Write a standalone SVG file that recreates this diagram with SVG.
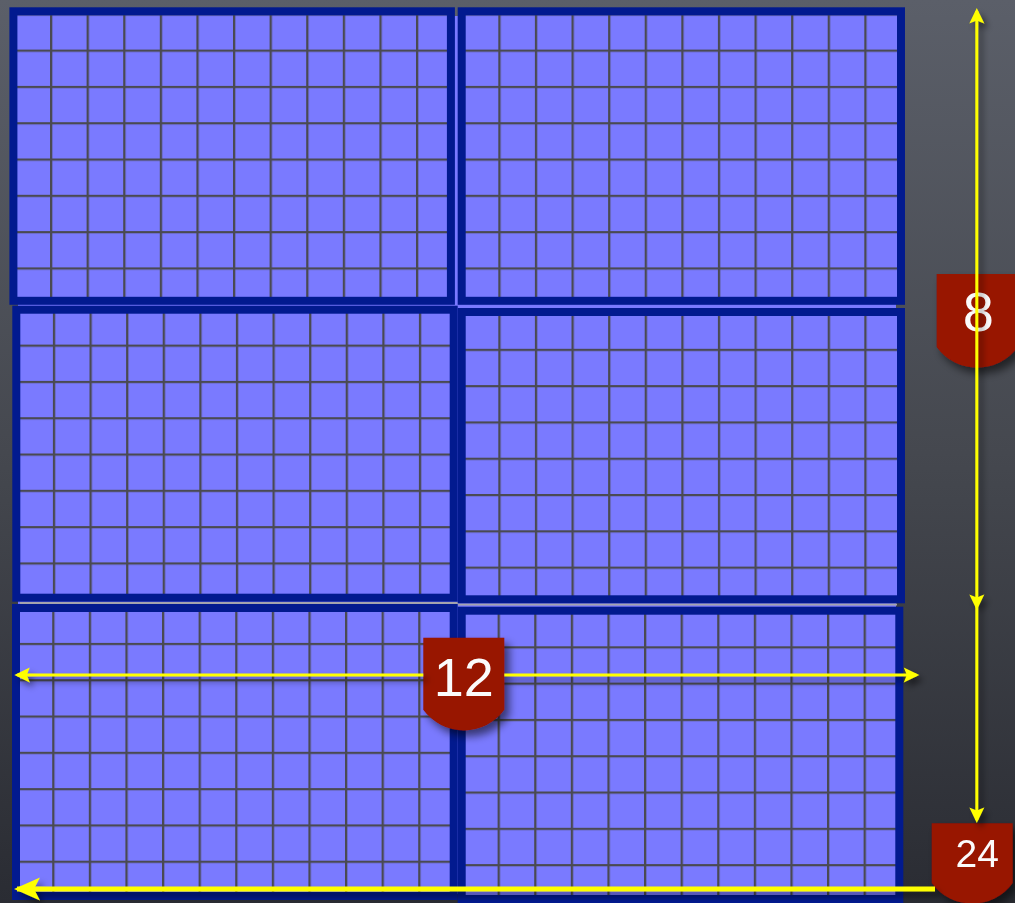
<svg xmlns="http://www.w3.org/2000/svg" width="1015" height="903" viewBox="0 0 1015 903">
  <style>
    .cells { fill: url(#grid); }
    .frame { fill: none; stroke: #021a8f; stroke-width: 8; }
    .badge { fill: #981300; }
    .num { fill: #fbfbfb; font-family: "Liberation Sans", Arial, sans-serif; text-anchor: middle; }
    .yl { fill: none; stroke: #ffff00; stroke-width: 3; }
    .yl-thick { fill: none; stroke: #ffff00; stroke-width: 5; }
  </style>
  <defs>
    <linearGradient id="bg" x1="0" y1="0" x2="0" y2="1">
      <stop offset="0" stop-color="#5b5f69"/>
      <stop offset="0.5" stop-color="#45484f"/>
      <stop offset="1" stop-color="#2a2c33"/>
    </linearGradient>
    <pattern id="grid" width="36.6" height="36.3" patternUnits="userSpaceOnUse">
      <rect width="36.6" height="36.3" fill="#7a7aff"/>
      <path d="M1.15,0 V36.3 M0,1.15 H36.6" stroke="#4a4a52" stroke-width="2.3"/>
    </pattern>
    <filter id="shadow" x="-30%" y="-30%" width="160%" height="160%">
      <feDropShadow dx="5" dy="6" stdDeviation="4" flood-color="#000" flood-opacity="0.55"/>
    </filter>
    <filter id="ashadow" x="-10%" y="-10%" width="120%" height="120%">
      <feDropShadow dx="4" dy="5" stdDeviation="3" flood-color="#000" flood-opacity="0.5"/>
    </filter>
    <marker id="head" markerUnits="userSpaceOnUse" markerWidth="40" markerHeight="40" refX="0" refY="0" orient="auto-start-reverse" overflow="visible">
      <path d="M3,0 L-12.5,-7.5 L-9.5,0 L-12.5,7.5 Z" fill="#ffff00"/>
    </marker>
    <marker id="bighead" markerUnits="userSpaceOnUse" markerWidth="60" markerHeight="60" refX="0" refY="0" orient="auto-start-reverse" overflow="visible">
      <path d="M3,0 L-23,-11.5 L-17,0 L-23,11.5 Z" fill="#ffff00"/>
    </marker>
    <path id="shield" d="M0,0 H81 V72 A50 50 0 0 1 0 72 Z"/>
  </defs>

  <rect width="1015" height="903" fill="url(#bg)"/>

  <g id="underlay">
    <rect x="18" y="16" width="878" height="878" fill="#7a7aff"/>
    <path d="M20,603 H458 M458,604.5 H897" stroke="#a4a4ae" stroke-width="2.2"/>
  </g>

  <g id="panel-top-left" transform="translate(13.4,13.3)">
    <rect class="cells" width="439" height="288"/>
    <rect class="frame" x="0" y="-2" width="437.5" height="289.5"/>
  </g>
  <g id="panel-top-right" transform="translate(461.7,13.3)">
    <rect class="cells" width="439" height="288"/>
    <rect class="frame" x="0" y="-2" width="439.3" height="289.5"/>
  </g>
  <g id="panel-middle-left" transform="translate(16.3,308.3)">
    <rect class="cells" width="439" height="290"/>
    <rect class="frame" x="0" y="1.4" width="437.4" height="288"/>
  </g>
  <g id="panel-middle-right" transform="translate(461.7,312.5)">
    <rect class="cells" width="439" height="288"/>
    <rect class="frame" x="0" y="-0.5" width="439.3" height="287.3"/>
  </g>
  <g id="panel-bottom-left" transform="translate(15.6,606.6)">
    <rect class="cells" width="439" height="292"/>
    <rect class="frame" x="0.4" y="1.4" width="437.7" height="288"/>
  </g>
  <g id="panel-bottom-right" transform="translate(461,610)">
    <rect class="cells" width="440" height="293"/>
    <rect class="frame" x="0.7" y="0.7" width="437.6" height="288.3"/>
  </g>

  <g id="badge-12" filter="url(#shadow)">
    <use href="#shield" class="badge" transform="translate(423.3,637.7)"/>
    <text class="num" x="463.8" y="696" font-size="54">12</text>
  </g>
  <g id="badge-24" filter="url(#shadow)">
    <path class="badge" d="M931.7,823.3 H1012.7 V883 A50 50 0 0 1 931.7 883 Z"/>
    <text class="num" x="977.3" y="867" font-size="39">24</text>
  </g>
  <g id="badge-8" filter="url(#shadow)">
    <path class="badge" d="M936.7,274 H1017.7 V347 A50 50 0 0 1 936.7 347 Z"/>
    <text class="num" x="978.3" y="331" font-size="56">8</text>
  </g>

  <g id="connectors" filter="url(#ashadow)">
    <path class="yl" d="M976.8,11 V607 V820" marker-start="url(#head)" marker-mid="url(#head)" marker-end="url(#head)"/>
    <path class="yl" d="M423.3,675 H17.3" marker-end="url(#head)"/>
    <path class="yl" d="M504.3,675 H916.3" marker-end="url(#head)"/>
    <path class="yl-thick" d="M935,889 H17" marker-end="url(#bighead)"/>
  </g>
</svg>
